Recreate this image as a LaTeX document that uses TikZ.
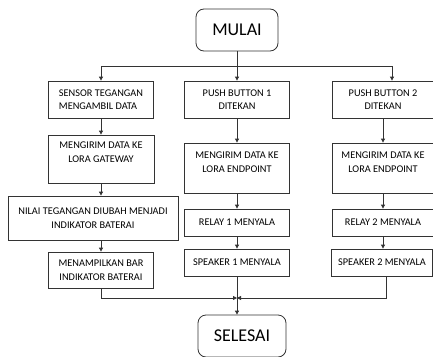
\documentclass[tikz,border=0pt]{standalone}
\usepackage{fontspec}
\setmainfont{Carlito}
\usetikzlibrary{arrows.meta}

\begin{document}
\begin{tikzpicture}[x=1pt,y=-1pt,
  >={Triangle[length=4pt,width=4pt]},
  flow/.style={draw=black!80,line width=0.8pt},
  terminal/.style={draw=black!80,line width=0.8pt,rounded corners=8pt,font=\fontsize{18}{20}\selectfont},
  process/.style={draw=black!80,line width=0.8pt,align=center,inner sep=2pt,font=\fontsize{10.3}{13.5}\selectfont},
  liftedtext/.style={align=center,font=\fontsize{10.3}{13.5}\selectfont}]
\useasboundingbox (0,0) rectangle (433,356);

\node[terminal,minimum width=82,minimum height=42] (mulai) at (237,30) {MULAI};

\node[process,align=left,minimum width=105,minimum height=37] (sensor) at (101,99.5) {SENSOR TEGANGAN\\MENGAMBIL DATA};
\node[process,minimum width=105,minimum height=37] (push1) at (237,99.5) {PUSH BUTTON 1\\DITEKAN};
\node[process,minimum width=102,minimum height=37] (push2) at (383,99.5) {PUSH BUTTON 2\\DITEKAN};

\node[process,minimum width=106,minimum height=48,
  label={[liftedtext,yshift=7]center:MENGIRIM DATA KE\\LORA GATEWAY}] (gateway) at (101,159) {};
\node[process,minimum width=170,minimum height=44] (nilai) at (93,218) {NILAI TEGANGAN DIUBAH MENJADI\\INDIKATOR BATERAI};
\node[process,minimum width=105,minimum height=36] (tampil) at (101,270) {MENAMPILKAN BAR\\INDIKATOR BATERAI};

\node[process,minimum width=105,minimum height=50,
  label={[liftedtext,yshift=6]center:MENGIRIM DATA KE\\LORA ENDPOINT}] (endpoint1) at (237,168) {};
\node[process,minimum width=105,minimum height=27] (relay1) at (237,222.5) {RELAY 1 MENYALA};
\node[process,minimum width=105,minimum height=27] (speaker1) at (237,262.5) {SPEAKER 1 MENYALA};

\node[process,minimum width=102,minimum height=50,
  label={[liftedtext,yshift=6]center:MENGIRIM DATA KE\\LORA ENDPOINT}] (endpoint2) at (383,168) {};
\node[process,minimum width=102,minimum height=27] (relay2) at (383,222.5) {RELAY 2 MENYALA};
\node[process,minimum width=101,minimum height=27] (speaker2) at (382,262.5) {SPEAKER 2 MENYALA};

\node[terminal,minimum width=88,minimum height=42] (selesai) at (242,336) {SELESAI};

\coordinate (split) at (237,66);
\coordinate (join) at (237,298);

% cabang dari mulai
\draw[flow] (mulai) -- (split);
\draw[flow,->] (split) -| (sensor);
\draw[flow,->] (split) -- (push1);
\draw[flow,->] (split) -| ([xshift=9]push2.north);

% kolom sensor
\draw[flow,->] (sensor) -- (gateway);
\draw[flow,->] (gateway) -- (gateway.south |- nilai.north);
\draw[flow,->] (tampil.north |- nilai.south) -- (tampil);

% kolom push button 1
\draw[flow,->] (push1) -- (endpoint1);
\draw[flow,->] (endpoint1) -- (relay1);
\draw[flow,->] (relay1) -- (speaker1);

% kolom push button 2
\draw[flow,->] (push2) -- (endpoint2);
\draw[flow,->] (endpoint2) -- (relay2);
\draw[flow,->] (relay2.south) -- (relay2.south |- speaker2.north);

% menuju selesai
\draw[flow,->] (tampil) |- (join);
\draw[flow,->] ([xshift=4]speaker2.south) |- (join);
\draw[flow,->] (speaker1) -- (speaker1.south |- selesai.north);
\end{tikzpicture}
\end{document}
